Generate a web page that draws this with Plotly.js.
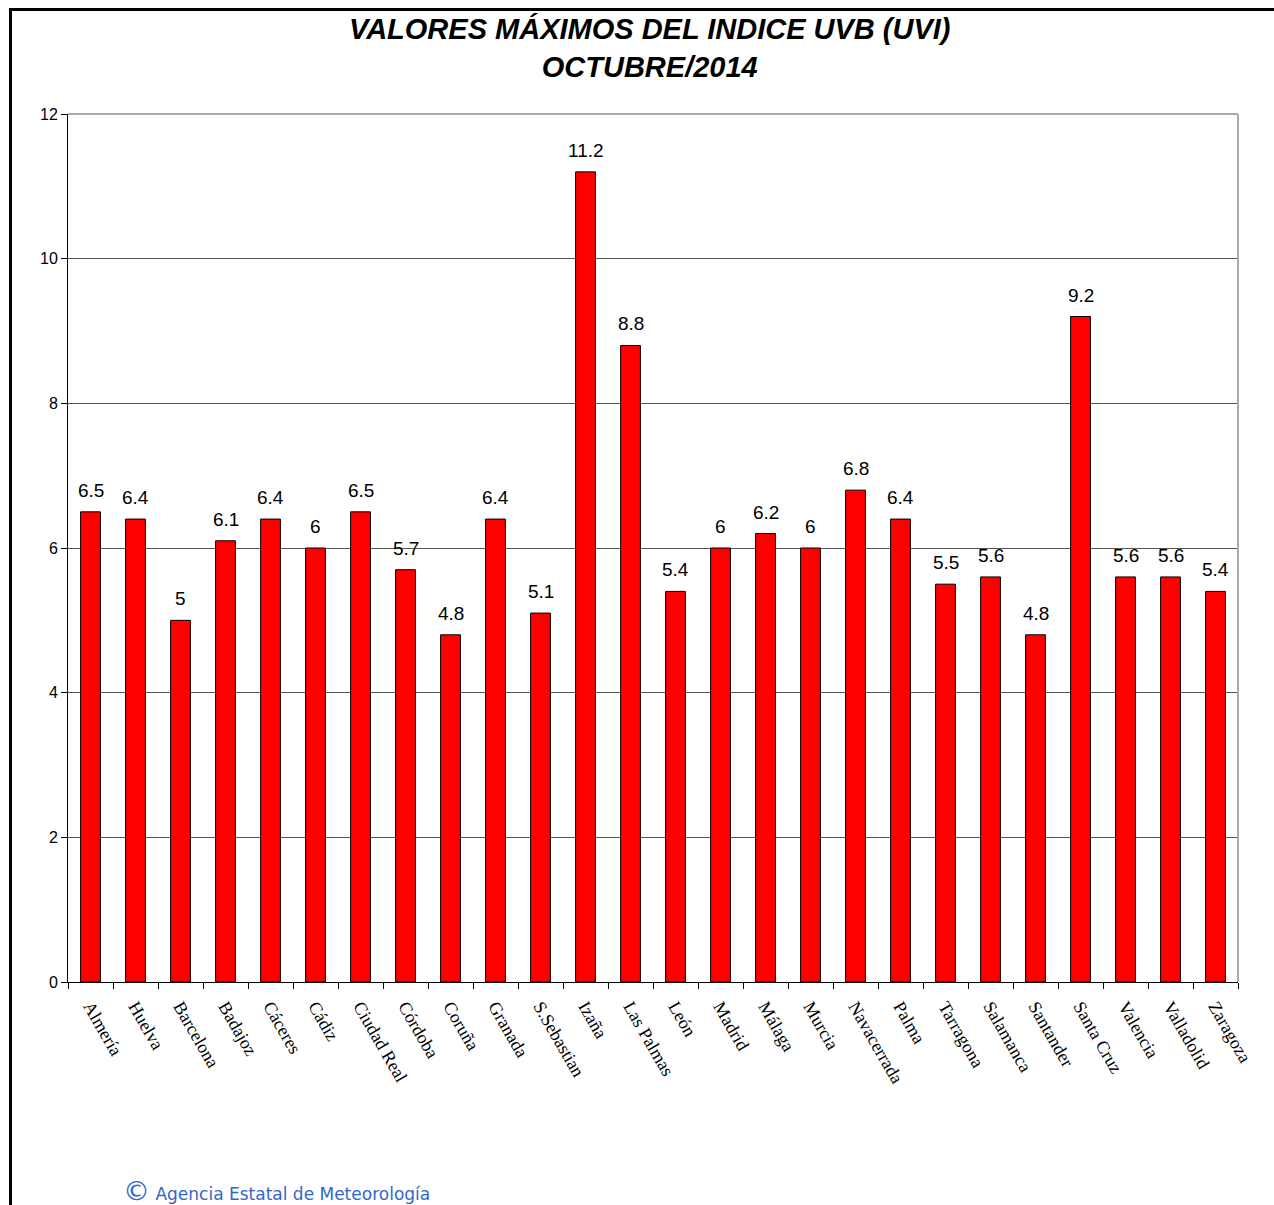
<!DOCTYPE html>
<html>
<head>
<meta charset="utf-8">
<script src="https://cdn.plot.ly/plotly-3.0.1.min.js"></script>
<style>
  html, body { margin: 0; padding: 0; background: #fff; }
  #frame { position: absolute; left: 9px; top: 8px; width: 1265px; height: 1197px;
           border-left: 3px solid #000; border-top: 3px solid #000; box-sizing: border-box; }
  #chart { position: absolute; left: 0; top: 0; width: 1274px; height: 1205px; }
</style>
</head>
<body>
<div id="frame"></div>
<div id="chart"></div>
<script>
const stations = ["Almería","Huelva","Barcelona","Badajoz","Cáceres","Cádiz","Ciudad Real","Córdoba","Coruña","Granada","S.Sebastian","Izaña","Las Palmas","León","Madrid","Málaga","Murcia","Navacerrada","Palma","Tarragona","Salamanca","Santander","Santa Cruz","Valencia","Valladolid","Zaragoza"];
const uviMax = [6.5,6.4,5,6.1,6.4,6,6.5,5.7,4.8,6.4,5.1,11.2,8.8,5.4,6,6.2,6,6.8,6.4,5.5,5.6,4.8,9.2,5.6,5.6,5.4];
const yTicks = [0,2,4,6,8,10,12];

const trace = {
  type: 'bar',
  x: stations,
  y: uviMax,
  marker: {color: '#FF0000', line: {color: '#000', width: 1}},
  width: 0.44,
  hoverinfo: 'x+y'
};

const valueLabels = stations.map((s, i) => ({
  x: s, y: uviMax[i], xref: 'x', yref: 'y',
  text: String(uviMax[i]), showarrow: false,
  xanchor: 'center', yanchor: 'bottom', yshift: 9,
  font: {family: 'Liberation Sans, Arial, sans-serif', size: 19, color: '#000'}
}));

const layout = {
  width: 1274, height: 1205,
  margin: {l: 68, r: 36, t: 114, b: 223},
  paper_bgcolor: 'rgba(0,0,0,0)',
  plot_bgcolor: 'rgba(0,0,0,0)',
  showlegend: false,
  title: {
    text: '<b><i>VALORES MÁXIMOS DEL INDICE UVB (UVI)<br>OCTUBRE/2014</i></b>',
    font: {family: 'Liberation Sans, Arial, sans-serif', size: 29, color: '#000'},
    x: 0.51, xanchor: 'center', yref: 'container', y: 1 - 39/1205, yanchor: 'middle'
  },
  xaxis: {
    type: 'category',
    tickangle: 60,
    tickson: 'boundaries',
    ticks: 'outside', ticklen: 6, tickcolor: '#000', tickwidth: 1,
    ticklabelstandoff: 6,
    showline: true, linecolor: '#000', linewidth: 1,
    showgrid: false,
    tickfont: {family: 'Liberation Serif, Times New Roman, serif', size: 18, color: '#000'},
    range: [-0.5, 25.5]
  },
  yaxis: {
    range: [0, 12],
    tickvals: yTicks,
    ticktext: yTicks.map(String),
    ticks: 'outside', ticklen: 6, tickcolor: '#000', tickwidth: 1,
    showline: true, linecolor: '#000', linewidth: 1,
    showgrid: true, gridcolor: '#555', gridwidth: 1,
    zeroline: false,
    tickfont: {family: 'Liberation Sans, Arial, sans-serif', size: 16, color: '#000'}
  },
  shapes: [
    {type: 'line', xref: 'paper', yref: 'paper', x0: 0, x1: 1, y0: 1, y1: 1, line: {color: '#aaa', width: 2}},
    {type: 'line', xref: 'paper', yref: 'paper', x0: 1, x1: 1, y0: 0, y1: 1, line: {color: '#aaa', width: 2}}
  ],
  annotations: valueLabels.concat([
    {xref: 'paper', yref: 'paper', x: 0.045, y: -0.2405, xanchor: 'left', yanchor: 'middle', showarrow: false,
     text: '<span style="font-size:27px">©</span> Agencia Estatal de Meteorología',
     font: {family: 'DejaVu Sans, sans-serif', size: 17, color: '#3366CC'}}
  ])
};

Plotly.newPlot('chart', [trace], layout, {displayModeBar: false, staticPlot: true});
</script>
</body>
</html>
